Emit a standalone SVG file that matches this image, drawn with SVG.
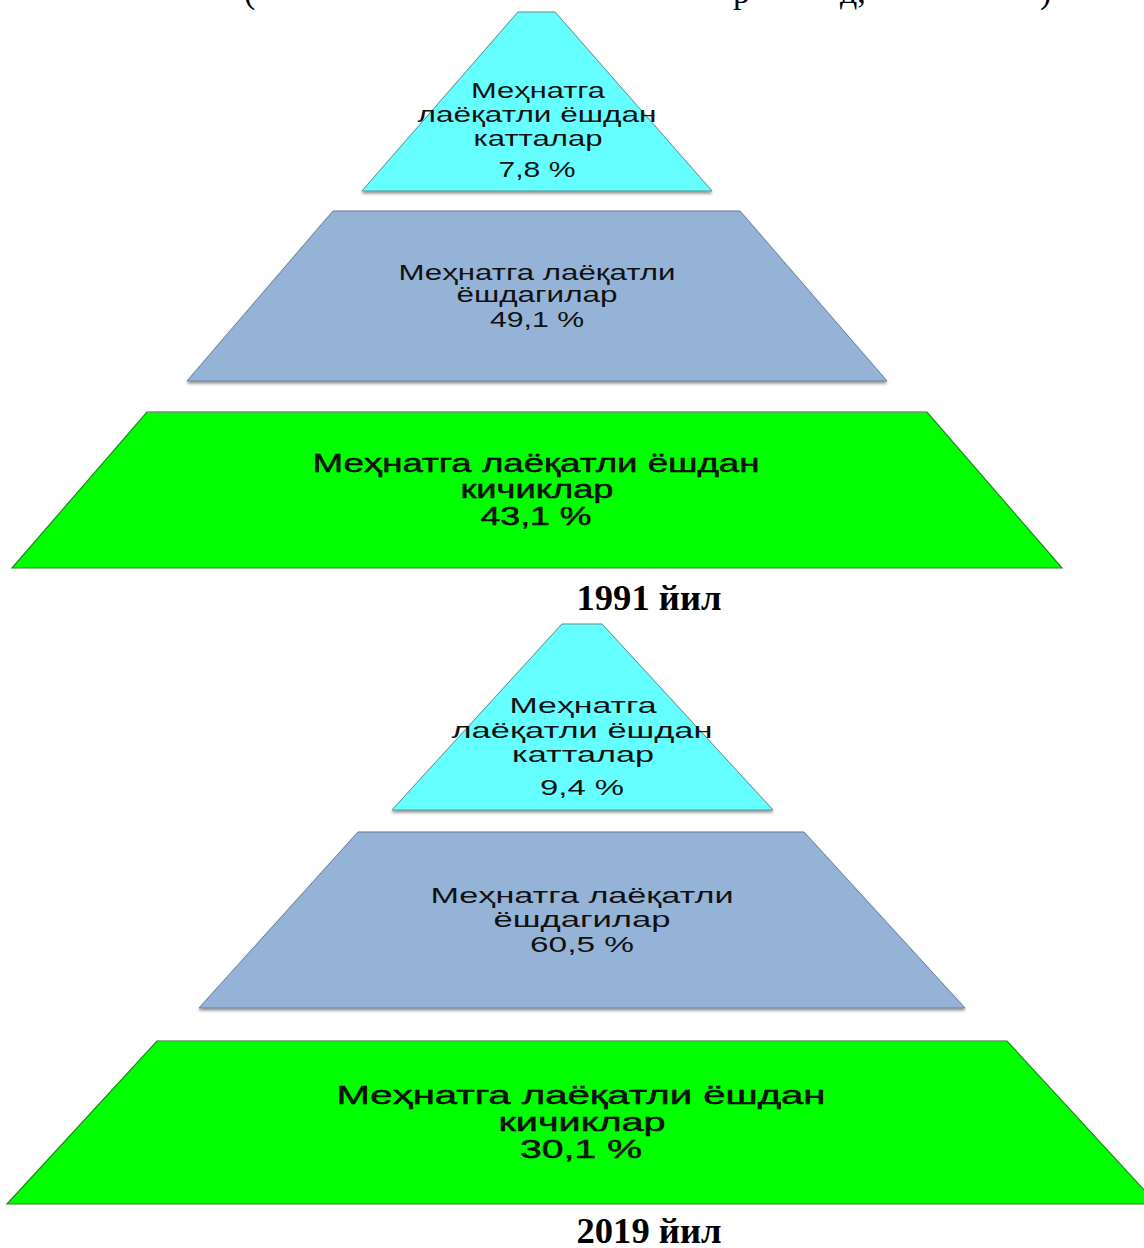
<svg xmlns="http://www.w3.org/2000/svg" width="1144" height="1248" viewBox="0 0 1144 1248">
  <defs>
    <filter id="sh" x="-5%" y="-5%" width="110%" height="115%">
      <feDropShadow dx="0" dy="2" stdDeviation="1.6" flood-color="#000" flood-opacity="0.45"/>
    </filter>
  </defs>
  <style>
    .cyan{fill:#66FFFF;stroke:#5f8f8f;stroke-width:1}
    .blue{fill:#95B3D7;stroke:#6b7f99;stroke-width:1}
    .green{fill:#00FF00;stroke:#1f8a1f;stroke-width:1.2}
    .lbl{font-family:"Liberation Sans",Arial,sans-serif;fill:#111;text-anchor:middle}
    .s22{font-size:22px}
    .s27{font-size:26px;stroke:#000;stroke-width:0.45}
    .year{font-family:"Liberation Serif","Times New Roman",serif;font-weight:bold;font-size:35px;fill:#000;text-anchor:middle}
    .frag{font-family:"Liberation Serif","Times New Roman",serif;font-size:34px;fill:#000}
  </style>
  <rect width="1144" height="1248" fill="#fff"/>

  <g id="header-fragment">
    <text class="frag" x="244" y="3">(</text>
    <text class="frag" x="733" y="3">р</text>
    <text class="frag" x="840" y="3">д,</text>
    <text class="frag" x="1040" y="3">)</text>
  </g>

  <g id="connectors"/>

  <!-- 1991 -->
  <g id="y1991-top">
    <polygon class="cyan" filter="url(#sh)" points="518,12 555,12 712,191 362,191"/>
    <text class="lbl s22" x="538" y="98" textLength="134" lengthAdjust="spacingAndGlyphs">Меҳнатга</text>
    <text class="lbl s22" x="537" y="122" textLength="239" lengthAdjust="spacingAndGlyphs">лаёқатли ёшдан</text>
    <text class="lbl s22" x="538" y="146" textLength="129" lengthAdjust="spacingAndGlyphs">катталар</text>
    <text class="lbl s22" x="537" y="177" textLength="77" lengthAdjust="spacingAndGlyphs">7,8 %</text>
  </g>
  <g id="y1991-middle">
    <polygon class="blue" filter="url(#sh)" points="333,211 740,211 887,381 187,381"/>
    <text class="lbl s22" x="537" y="280" textLength="277" lengthAdjust="spacingAndGlyphs">Меҳнатга лаёқатли</text>
    <text class="lbl s22" x="537" y="302" textLength="161" lengthAdjust="spacingAndGlyphs">ёшдагилар</text>
    <text class="lbl s22" x="537" y="327" textLength="94" lengthAdjust="spacingAndGlyphs">49,1 %</text>
  </g>
  <g id="y1991-bottom">
    <polygon class="green" points="147,412 927,412 1062,568 12,568"/>
    <line x1="147" y1="412" x2="927" y2="412" stroke="#9a9a9a" stroke-width="1"/>
    <text class="lbl s27" x="536" y="472" textLength="447" lengthAdjust="spacingAndGlyphs">Меҳнатга лаёқатли ёшдан</text>
    <text class="lbl s27" x="537" y="498" textLength="153" lengthAdjust="spacingAndGlyphs">кичиклар</text>
    <text class="lbl s27" x="536" y="525" textLength="111" lengthAdjust="spacingAndGlyphs">43,1 %</text>
  </g>
  <g id="y1991-label">
    <text class="year" x="649" y="610" textLength="145" lengthAdjust="spacingAndGlyphs">1991 йил</text>
  </g>

  <!-- 2019 -->
  <g id="y2019-top">
    <polygon class="cyan" filter="url(#sh)" points="562,624 602,624 773,810 392,810"/>
    <text class="lbl s22" x="583" y="713" textLength="147" lengthAdjust="spacingAndGlyphs">Меҳнатга</text>
    <text class="lbl s22" x="582" y="738" textLength="261" lengthAdjust="spacingAndGlyphs">лаёқатли ёшдан</text>
    <text class="lbl s22" x="583" y="762" textLength="142" lengthAdjust="spacingAndGlyphs">катталар</text>
    <text class="lbl s22" x="582" y="795" textLength="84" lengthAdjust="spacingAndGlyphs">9,4 %</text>
  </g>
  <g id="y2019-middle">
    <polygon class="blue" filter="url(#sh)" points="358,832 804,832 965,1008 199,1008"/>
    <text class="lbl s22" x="582" y="903" textLength="303" lengthAdjust="spacingAndGlyphs">Меҳнатга лаёқатли</text>
    <text class="lbl s22" x="582" y="927" textLength="177" lengthAdjust="spacingAndGlyphs">ёшдагилар</text>
    <text class="lbl s22" x="582" y="952" textLength="104" lengthAdjust="spacingAndGlyphs">60,5 %</text>
  </g>
  <g id="y2019-bottom">
    <polygon class="green" points="157,1041 1007,1041 1157,1204 7,1204"/>
    <line x1="157" y1="1041" x2="1007" y2="1041" stroke="#9a9a9a" stroke-width="1"/>
    <text class="lbl s27" x="581" y="1104" textLength="489" lengthAdjust="spacingAndGlyphs">Меҳнатга лаёқатли ёшдан</text>
    <text class="lbl s27" x="582" y="1131" textLength="167" lengthAdjust="spacingAndGlyphs">кичиклар</text>
    <text class="lbl s27" x="581" y="1158" textLength="122" lengthAdjust="spacingAndGlyphs">30,1 %</text>
  </g>
  <g id="y2019-label">
    <text class="year" x="649" y="1243" textLength="145" lengthAdjust="spacingAndGlyphs">2019 йил</text>
  </g>
</svg>
